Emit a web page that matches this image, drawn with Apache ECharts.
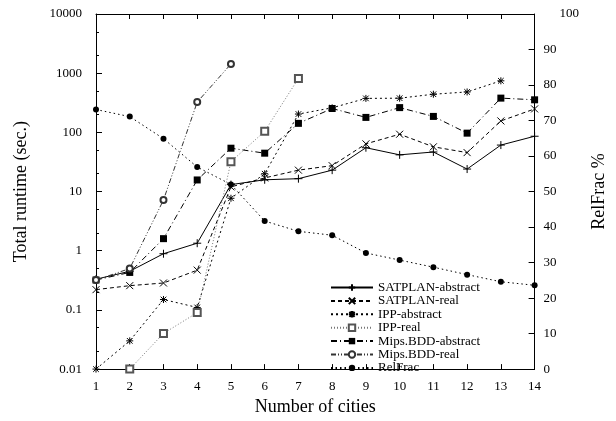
<!DOCTYPE html>
<html>
<head>
<meta charset="utf-8">
<script src="https://cdn.jsdelivr.net/npm/echarts@6/dist/echarts.min.js"></script>
<style>html,body{margin:0;padding:0;background:#fff}#c{width:616px;height:421px}</style>
</head>
<body>
<div id="c"></div>
<script>
const cities = [1,2,3,4,5,6,7,8,9,10,11,12,13,14];
const satplanAbstract = [0.33, 0.45, 0.89, 1.34, 13.1, 15.8, 16.5, 23, 55, 41.7, 46.6, 24, 61, 86];
const satplanReal     = [0.22, 0.257, 0.285, 0.47, 12, 17, 23, 27.4, 64, 93, 57, 45.5, 156, 249];
const ippAbstract     = [0.01, 0.03, 0.15, 0.11, 7.7, 20, 204, 260, 375, 378, 441, 482, 743, null];
const ippReal         = [null, 0.01, 0.04, 0.09, 32, 104, 817, null, null, null, null, null, null, null];
const mipsAbstract    = [0.32, 0.43, 1.6, 15.7, 54, 44.5, 142, 253, 179, 262, 186, 97, 379, 355];
const mipsReal        = [0.32, 0.5, 7.2, 325, 1430, null, null, null, null, null, null, null, null, null];
const relFrac         = [73.1, 71.1, 64.9, 56.9, 52, 41.7, 38.8, 37.7, 32.7, 30.7, 28.7, 26.6, 24.6, 23.6];
const leftTicks = [0.01, 0.1, 1, 10, 100, 1000, 10000];
const leftMinorTicks = [0.02,0.05,0.2,0.5,2,5,20,50,200,500,2000,5000];
const rightTicks = [0,10,20,30,40,50,60,70,80,90,100];

const FONT = 'Liberation Serif';
function pairs(vals){ return cities.map((c,i)=>[c, vals[i]]); }

const PLUS = 'path://M5,0L5,10M0,5L10,5';
const CROSS = 'path://M0,0L10,10M10,0L0,10';
const STAR = 'path://M5,0L5,10M0,5L10,5M1,1L9,9M9,1L1,9';

function mk(name, vals, opt){
  return Object.assign({
    name, type:'line', data: pairs(vals), xAxisIndex:0, yAxisIndex:0,
    connectNulls:false, animation:false, z: 3
  }, opt);
}

const series = [
  mk('SATPLAN-abstract', satplanAbstract, {
    symbol: PLUS, symbolSize: 8,
    lineStyle:{color:'#000', width:1, type:'solid'},
    itemStyle:{color:'#000', borderColor:'#000', borderWidth:1}
  }),
  mk('SATPLAN-real', satplanReal, {
    symbol: CROSS, symbolSize: 7,
    lineStyle:{color:'#000', width:1, type:[4,3]},
    itemStyle:{color:'#000', borderColor:'#000', borderWidth:1}
  }),
  mk('IPP-abstract', ippAbstract, {
    symbol: STAR, symbolSize: 7,
    lineStyle:{color:'#000', width:1, type:[2,3]},
    itemStyle:{color:'#000', borderColor:'#000', borderWidth:1}
  }),
  mk('IPP-real', ippReal, {
    symbol: 'emptyRect', symbolSize: 7,
    lineStyle:{color:'#777', width:1, type:[1,2]},
    itemStyle:{color:'#555', borderColor:'#555', borderWidth:1}
  }),
  mk('Mips.BDD-abstract', mipsAbstract, {
    symbol: 'rect', symbolSize: 7,
    lineStyle:{color:'#000', width:1, type:[6,3,1,3]},
    itemStyle:{color:'#000'}
  }),
  mk('Mips.BDD-real', mipsReal, {
    symbol: 'emptyCircle', symbolSize: 6,
    lineStyle:{color:'#333', width:1, type:[5,2,1,2,1,2]},
    itemStyle:{color:'#333', borderColor:'#333', borderWidth:1}
  }),
  mk('RelFrac', relFrac, {
    yAxisIndex:1, symbol:'circle', symbolSize: 6,
    lineStyle:{color:'#000', width:1, type:[1.5,3]},
    itemStyle:{color:'#000'}
  })
];

const axisLabelStyle = {fontFamily: FONT, fontSize: 13, color:'#000'};

const option = {
  backgroundColor:'#fff',
  animation:false,
  grid:{left:96, right:68, top:14, bottom:43, containLabel:false},
  legend:{
    show:true, orient:'vertical', left:330, top:281, padding:0,
    itemWidth:42, itemHeight:8, itemGap:0.4,
    textStyle:{fontFamily:FONT, fontSize:13, color:'#000'},
    data: series.map(s=>s.name)
  },
  xAxis:[{
    type:'value', min:1, max:14, interval:1, position:'bottom',
    name:'Number of cities', nameLocation:'middle', nameGap:27,
    nameTextStyle:{fontFamily:FONT, fontSize:18, color:'#000'},
    axisLine:{show:true, onZero:false, lineStyle:{color:'#000', width:1}},
    axisTick:{show:true, inside:true, length:5, lineStyle:{color:'#000'}},
    axisLabel:Object.assign({margin:11}, axisLabelStyle),
    splitLine:{show:false}
  },{
    type:'value', min:1, max:14, interval:1, position:'top',
    axisLine:{show:true, onZero:false, lineStyle:{color:'#000', width:1}},
    axisTick:{show:true, inside:true, length:5, lineStyle:{color:'#000'}},
    axisLabel:{show:false}, splitLine:{show:false}
  }],
  yAxis:[{
    type:'log', logBase:10, min:0.01, max:10000, position:'left',
    name:'Total runtime (sec.)', nameLocation:'middle', nameGap:66, nameRotate:90,
    nameTextStyle:{fontFamily:FONT, fontSize:18, color:'#000'},
    axisLine:{show:true, onZero:false, lineStyle:{color:'#000', width:1}},
    axisTick:{show:true, inside:true, length:6, lineStyle:{color:'#000'}, customValues: leftTicks},
    axisLabel:Object.assign({margin:14, customValues: leftTicks, formatter:(v)=>{
      const m = {0.01:'0.01',0.1:'0.1',1:'1',10:'10',100:'100',1000:'1000',10000:'10000'};
      const k = leftTicks.find(t=>Math.abs(Math.log10(t)-Math.log10(v))<1e-6);
      return k!==undefined ? m[k] : '';
    }}, axisLabelStyle),
    splitLine:{show:false}
  },{
    type:'value', min:0, max:100, interval:10, position:'right',
    name:'RelFrac %', nameLocation:'middle', nameGap:47, nameRotate:90,
    nameTextStyle:{fontFamily:FONT, fontSize:18, color:'#000'},
    axisLine:{show:true, onZero:false, lineStyle:{color:'#000', width:1}},
    axisTick:{show:true, inside:true, length:6, lineStyle:{color:'#000'}},
    axisLabel:Object.assign({margin:9, showMinLabel:true, showMaxLabel:true, hideOverlap:false,
      formatter:(v)=> v===100 ? '{s|}{t|100}' : String(v),
      rich:{s:{width:16}, t:{fontFamily:FONT, fontSize:13, color:'#000'}}
    }, axisLabelStyle),
    splitLine:{show:false}
  },{
    type:'log', logBase:10, min:0.01, max:10000, position:'left',
    axisLine:{show:false},
    axisTick:{show:true, inside:true, length:3, lineStyle:{color:'#000'}, customValues: leftMinorTicks},
    axisLabel:{show:false}, splitLine:{show:false}
  }],
  series
};

const chart = echarts.init(document.getElementById('c'), null, {renderer:'canvas'});
chart.setOption(option);
</script>
</body>
</html>
